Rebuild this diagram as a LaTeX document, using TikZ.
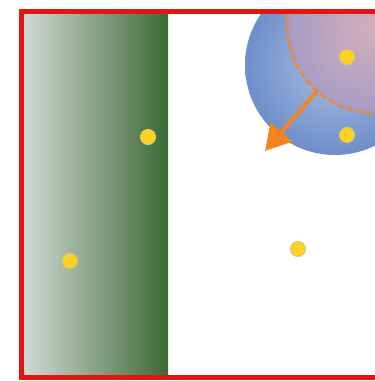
\documentclass[tikz,border=0pt]{standalone}
\usepackage{tikz}
\usetikzlibrary{arrows.meta, calc, positioning}
\definecolor{framered}{HTML}{E31414}
\definecolor{wallpale}{HTML}{D3D9D6}
\definecolor{walldark}{HTML}{3B6A33}
\definecolor{cellblue}{HTML}{6F8FC9}
\definecolor{cellbluelt}{HTML}{A9BEE2}
\definecolor{corepink}{HTML}{DEB0B8}
\definecolor{corerim}{HTML}{A99CC2}
\definecolor{pushorange}{HTML}{F5841F}
\definecolor{dotgold}{HTML}{FFD21F}
\tikzset{
  frame/.style  = {draw=framered, line width=5pt},
  dot/.style    = {circle, fill=dotgold, draw=dotgold!55!cellbluelt, line width=1pt,
                   minimum size=15pt, inner sep=0pt},
  corering/.style = {draw=pushorange!75!corerim, dash pattern=on 7pt off 3pt,
                     line width=3pt},
  push/.style   = {-{Triangle[length=25pt, width=28pt]}, draw=pushorange,
                   line width=4pt},
}
\begin{document}
\begin{tikzpicture}[x=1pt, y=-1pt]
  \useasboundingbox (0,0) rectangle (375,381);
  \begin{scope}
    \clip (21,11) rectangle (380,378);
    % wall strip
    \shade[left color=wallpale, right color=walldark] (24,11) rectangle (168,378);
    % cell body and core
    \coordinate (cell) at (335,65);
    \coordinate (core) at (375,25);
    \shade[inner color=cellbluelt, outer color=cellblue] (cell) circle (90);
    \shade[inner color=corepink, outer color=corerim, opacity=0.9] (core) circle (88);
    \draw[corering] (core) circle (88);
    \coordinate (rim) at ($(core)!88pt!(318,90)$);
    \coordinate (tip) at (265,151);
    \draw[push] (rim) -- (tip);
  \end{scope}
  % particles
  \node[dot] (p1) at (347,57) {};
  \node[dot] (p2) at (347,135) {};
  \node[dot] (p3) at (148,137) {};
  \node[dot] (p4) at (70,261) {};
  \node[dot] (p5) at (298,249) {};
  \draw[frame] (400,11.5) -- (21.5,11.5) -- (21.5,377.5) -- (400,377.5);
\end{tikzpicture}
\end{document}
